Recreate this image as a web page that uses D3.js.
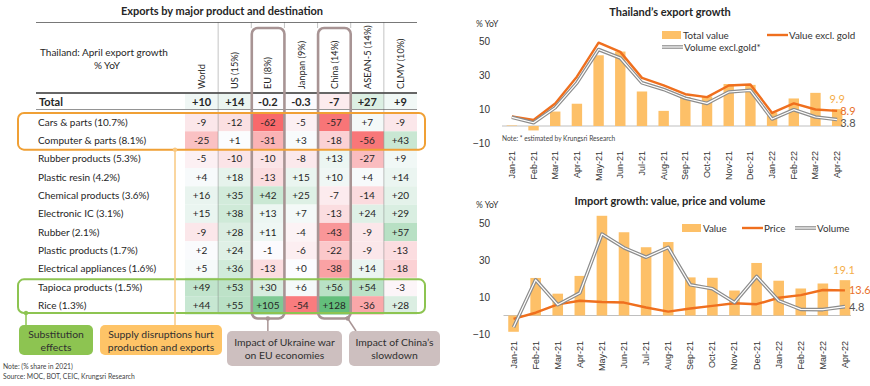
<!DOCTYPE html>
<html>
<head>
<meta charset="utf-8">
<script src="https://cdn.jsdelivr.net/npm/d3@7"></script>
<style>
  body { margin: 0; background: #fff; }
  svg { font-family: Lato, 'Open Sans', sans-serif; }
</style>
</head>
<body>
<div id="chart"></div>
<script>
// ---- table data ----
const products = [
  'Cars  & parts (10.7%)', 'Computer & parts (8.1%)', 'Rubber products (5.3%)',
  'Plastic resin (4.2%)', 'Chemical products (3.6%)', 'Electronic IC (3.1%)',
  'Rubber (2.1%)', 'Plastic products (1.7%)', 'Electrical appliances (1.6%)',
  'Tapioca products (1.5%)', 'Rice (1.3%)'
];
const destinations = ['World', 'US (15%)', 'EU (8%)', 'Janpan (9%)', 'China (14%)', 'ASEAN-5 (14%)', 'CLMV (10%)'];
const totalGrowth = [10, 14, -0.2, -0.3, -7, 27, 9];
const productGrowth = [
  [-9, -12, -62, -5, -57, 7, -9],
  [-25, 1, -31, 3, -18, -56, 43],
  [-5, -10, -10, -8, 13, -27, 9],
  [4, 18, -13, 15, 10, 4, 14],
  [16, 35, 42, 25, -7, -14, 20],
  [15, 38, 13, 7, -13, 24, 29],
  [-9, 28, 11, -4, -43, -9, 57],
  [2, 24, -1, -6, -22, -9, -13],
  [5, 36, -13, 0, -38, 14, -18],
  [49, 53, 30, 6, 56, 54, -3],
  [44, 55, 105, -54, 128, -36, 28]
];

// ---- chart data ----
const months = ['Jan-21', 'Feb-21', 'Mar-21', 'Apr-21', 'May-21', 'Jun-21', 'Jul-21', 'Aug-21',
  'Sep-21', 'Oct-21', 'Nov-21', 'Dec-21', 'Jan-22', 'Feb-22', 'Mar-22', 'Apr-22'];
const exportTotal = [0.3, -2.6, 8.5, 13.1, 41.6, 43.8, 20.3, 8.9, 17.1, 17.4, 24.7, 24.2, 8.0, 16.2, 19.5, 9.9];
const exportExGold = [5.6, 3.5, 13.2, 29, 49, 43.6, 28.3, 23.9, 18.7, 17, 23.8, 24.4, 7.7, 13.3, 9.7, 8.9];
const exportVolume = [5.1, 1.9, 10.8, 25.4, 45, 40, 25.4, 21.5, 16.3, 13.3, 20, 21, 4.1, 9.6, 5.3, 3.8];
const importValue = [-8.8, 20.3, 11.8, 21.4, 53.9, 45, 36.9, 39.7, 20.6, 20.4, 13.5, 28.4, 18.8, 14.6, 17.3, 19.1];
const importPrice = [-1.8, 1.5, 6, 8, 7.3, 7, 4.3, 2.1, 3.8, 5.2, 6.6, 6.1, 9.6, 11, 13.8, 13.6];
const importVolume = [-6.4, 19.3, 5.8, 12.2, 44, 36.6, 31.5, 36.8, 16.6, 14.5, 7, 21.1, 8, 3.3, 3.2, 4.8];

const W = 870, H = 386;
const svg = d3.select('#chart').append('svg').attr('width', W).attr('height', H);

const fmt = d => (d >= 0 ? '+' : '') + d;
const ink = '#262626';

// ================= TABLE =================
const tLeft = 36, tRight = 417;
const colX = d3.scaleBand().domain(destinations).range([185, tRight]);
const rowY = d3.scaleBand().domain(products).range([113, 314.5]);
const bw = colX.bandwidth(), rh = rowY.bandwidth();
const allVals = productGrowth.flat();
const heat = d3.scaleLinear()
  .domain([d3.min(allVals), 0, d3.max(allVals)])
  .range(['#F8696B', '#FCFCFF', '#63BE7B']);

svg.append('text')
  .attr('x', 222).attr('y', 15)
  .attr('text-anchor', 'middle')
  .attr('font-size', 11).attr('font-weight', 'bold').attr('fill', ink)
  .text('Exports by major product and destination');

const table = svg.append('g');

table.append('line')
  .attr('x1', tLeft).attr('x2', tRight).attr('y1', 22.5).attr('y2', 22.5)
  .attr('stroke', '#555').attr('stroke-width', 0.8);

table.append('text').attr('x', 40).attr('y', 56)
  .attr('font-size', 10).attr('fill', ink).text('Thailand: April export growth');
table.append('text').attr('x', 107).attr('y', 69).attr('text-anchor', 'middle')
  .attr('font-size', 10).attr('fill', ink).text('% YoY');

table.selectAll('.colhead')
  .data(destinations)
  .enter()
  .append('text')
  .attr('class', 'colhead')
  .attr('transform', d => `translate(${colX(d) + bw / 2 + 3.5}, 89) rotate(-90)`)
  .attr('font-size', 9.2).attr('fill', ink)
  .text(d => d);

// total row
table.selectAll('.totcell')
  .data(totalGrowth)
  .enter()
  .append('rect')
  .attr('x', (d, i) => colX(destinations[i]))
  .attr('y', 94)
  .attr('width', bw).attr('height', 15)
  .attr('fill', d => heat(d));

table.selectAll('.tottext')
  .data(totalGrowth)
  .enter()
  .append('text')
  .attr('x', (d, i) => colX(destinations[i]) + bw / 2)
  .attr('y', 105.5)
  .attr('text-anchor', 'middle')
  .attr('font-size', 11).attr('font-weight', 'bold').attr('fill', ink)
  .text(fmt);

table.append('text').attr('x', 39).attr('y', 105.5)
  .attr('font-size', 11).attr('font-weight', 'bold').attr('fill', ink).text('Total');

// product rows
const rows = table.selectAll('.row')
  .data(products)
  .enter()
  .append('g')
  .attr('transform', d => `translate(0, ${rowY(d)})`);

rows.append('text')
  .attr('x', 38).attr('y', rh / 2 + 3.6)
  .attr('font-size', 10).attr('fill', ink)
  .text(d => d);

rows.selectAll('rect')
  .data((d, i) => productGrowth[i])
  .enter()
  .append('rect')
  .attr('x', (d, j) => colX(destinations[j]))
  .attr('width', bw).attr('height', rh)
  .attr('fill', d => heat(d));

rows.selectAll('.val')
  .data((d, i) => productGrowth[i])
  .enter()
  .append('text')
  .attr('class', 'val')
  .attr('x', (d, j) => colX(destinations[j]) + bw / 2)
  .attr('y', rh / 2 + 3.6)
  .attr('text-anchor', 'middle')
  .attr('font-size', 10).attr('fill', ink)
  .text(fmt);

// rules
table.append('line')
  .attr('x1', tLeft).attr('x2', tRight).attr('y1', 93).attr('y2', 93)
  .attr('stroke', '#333').attr('stroke-width', 1.4);
table.append('line')
  .attr('x1', tLeft).attr('x2', tRight).attr('y1', 109.5).attr('y2', 109.5)
  .attr('stroke', '#666').attr('stroke-width', 0.7);

const tableBottom = rowY.range()[1];
[destinations[1], destinations[6]].forEach(d => {
  table.append('line')
    .attr('x1', colX(d)).attr('x2', colX(d)).attr('y1', 22.5).attr('y2', tableBottom)
    .attr('stroke', '#555').attr('stroke-width', 0.7).attr('stroke-dasharray', '1,1');
});
[destinations[2], destinations[4]].forEach(d => {
  [colX(d), colX(d) + bw].forEach(x => {
    table.append('line')
      .attr('x1', x).attr('x2', x).attr('y1', 22.5).attr('y2', 28)
      .attr('stroke', '#555').attr('stroke-width', 0.7).attr('stroke-dasharray', '1,1');
  });
});

// highlight boxes
const grey = '#A89494';
[destinations[2], destinations[4]].forEach(d => {
  table.append('rect')
    .attr('x', colX(d) + 0.5).attr('y', 28)
    .attr('width', bw - 0.5).attr('height', tableBottom + 4 - 28)
    .attr('rx', 6)
    .attr('fill', 'none').attr('stroke', grey).attr('stroke-width', 2.6);
});

const orange = '#F0A035', green = '#8DC451';
table.append('rect')
  .attr('x', 18).attr('y', rowY(products[0]))
  .attr('width', 407).attr('height', rh * 2)
  .attr('rx', 6)
  .attr('fill', 'none').attr('stroke', orange).attr('stroke-width', 2);
table.append('rect')
  .attr('x', 18).attr('y', rowY(products[9]) + 1.5)
  .attr('width', 407).attr('height', rh * 2 - 3)
  .attr('rx', 6)
  .attr('fill', 'none').attr('stroke', green).attr('stroke-width', 2);

// connectors
const orangeBottom = rowY(products[1]) + rh;
const greenBottom = rowY(products[10]) + rh - 1.5;
const connectors = [
  { x1: 175, y1: orangeBottom, x2: 175, y2: 325, c: '#F9C880' },
  { x1: 26, y1: greenBottom, x2: 26, y2: 325, c: green },
  { x1: colX(destinations[2]) + bw / 2, y1: tableBottom + 4, x2: colX(destinations[2]) + bw / 2, y2: 331, c: grey },
  { x1: colX(destinations[4]) + bw - 3, y1: tableBottom + 4, x2: 356, y2: 331, c: grey }
];
connectors.forEach(c => {
  table.append('line').attr('x1', c.x1).attr('y1', c.y1).attr('x2', c.x2).attr('y2', c.y2)
    .attr('stroke', c.c).attr('stroke-width', 1.5);
  table.append('circle').attr('cx', c.x1).attr('cy', c.y1).attr('r', 2.2).attr('fill', c.c);
});

// annotation boxes
const notes = [
  { x: 19, y: 325, w: 74, h: 30, fill: '#8DC451', lines: ['Substitution', 'effects'] },
  { x: 100, y: 325, w: 122, h: 30, fill: '#FEC467', lines: ['Supply disruptions hurt', 'production and exports'] },
  { x: 227, y: 331, w: 115, h: 35, fill: '#CDBFBF', lines: ['Impact of Ukraine war', 'on EU economies'] },
  { x: 349, y: 331, w: 91, h: 35, fill: '#CDBFBF', lines: ['Impact of China\u2019s', 'slowdown'] }
];
notes.forEach(n => {
  const g = table.append('g');
  g.append('rect').attr('x', n.x).attr('y', n.y).attr('width', n.w).attr('height', n.h)
    .attr('rx', 5).attr('fill', n.fill);
  n.lines.forEach((t, i) => {
    g.append('text')
      .attr('x', n.x + n.w / 2)
      .attr('y', n.y + n.h / 2 - 2.5 + i * 13)
      .attr('text-anchor', 'middle')
      .attr('font-size', 10.4).attr('fill', '#303030')
      .text(t);
  });
});

svg.append('text').attr('x', 3).attr('y', 369).attr('font-size', 6.8).attr('fill', '#444')
  .text('Note: (% share in 2021)');
svg.append('text').attr('x', 3).attr('y', 379).attr('font-size', 6.8).attr('fill', '#444')
  .text('Source: MOC, BOT, CEIC, Krungsri Research');

// ================= CHARTS =================
const barColor = '#FDC068', lineOrange = '#EF6F1E';

function drawChart(cfg) {
  const g = svg.append('g');
  const x = d3.scaleBand().domain(months).range(cfg.xRange);
  const y = d3.scaleLinear().domain([-10, 50]).range(cfg.yRange);
  const step = x.bandwidth();
  const cx = m => x(m) + step / 2;

  g.append('text')
    .attr('x', 670).attr('y', cfg.titleY)
    .attr('text-anchor', 'middle')
    .attr('font-size', 11).attr('font-weight', 'bold').attr('fill', ink)
    .text(cfg.title);
  g.append('text').attr('x', 476).attr('y', cfg.unitY)
    .attr('font-size', 8.5).attr('fill', '#333').text('% YoY');

  const yAxis = g.append('g')
    .attr('transform', 'translate(493, 0)')
    .call(d3.axisLeft(y).tickValues([-10, 10, 30, 50]).tickSize(0).tickPadding(3));
  yAxis.select('.domain').remove();
  yAxis.selectAll('text').attr('font-size', 10).attr('fill', '#333').attr('font-family', null);

  const xAxis = g.append('g')
    .attr('transform', `translate(0, ${cfg.xLabelY})`)
    .call(d3.axisBottom(x).tickSize(0));
  xAxis.select('.domain').remove();
  xAxis.selectAll('text')
    .attr('transform', 'rotate(-90)')
    .attr('text-anchor', 'end')
    .attr('x', 0).attr('y', 0).attr('dy', '0.33em')
    .attr('font-size', 9).attr('fill', '#333').attr('font-family', null);

  g.append('line')
    .attr('x1', cfg.xRange[0] + 1).attr('x2', cfg.zeroEnd)
    .attr('y1', y(0)).attr('y2', y(0))
    .attr('stroke', '#BFBFBF').attr('stroke-width', 1);

  g.selectAll('.bar')
    .data(cfg.bars)
    .enter()
    .append('rect')
    .attr('x', (d, i) => x(months[i]) + step * 0.26)
    .attr('width', step * 0.48)
    .attr('y', d => Math.min(y(d), y(0)))
    .attr('height', d => Math.abs(y(d) - y(0)))
    .attr('fill', barColor);

  const line = d3.line().x((d, i) => cx(months[i])).y(d => y(d));

  g.append('path').datum(cfg.orange).attr('d', line)
    .attr('fill', 'none').attr('stroke', lineOrange).attr('stroke-width', 2.4)
    .attr('stroke-linejoin', 'round');
  g.append('path').datum(cfg.grey).attr('d', line)
    .attr('fill', 'none').attr('stroke', '#8C8C8C').attr('stroke-width', 3.6)
    .attr('stroke-linejoin', 'round');
  g.append('path').datum(cfg.grey).attr('d', line)
    .attr('fill', 'none').attr('stroke', '#fff').attr('stroke-width', 1.2)
    .attr('stroke-linejoin', 'round');

  // end labels
  const last = months.length - 1, lx = cx(months[last]);
  const lb = cfg.bars[last], lo = cfg.orange[last], lg = cfg.grey[last];
  g.append('text').attr('x', lx + cfg.barLabelDx).attr('y', y(lb) - 6)
    .attr('text-anchor', 'middle').attr('font-size', 11).attr('fill', '#F4AE48').text(lb);
  g.append('text').attr('x', lx + cfg.lineLabelDx).attr('y', y(lo) + 4)
    .attr('font-size', 11).attr('fill', '#E8702A').text(lo);
  g.append('text').attr('x', lx + cfg.lineLabelDx).attr('y', y(lg) + cfg.greyDy)
    .attr('font-size', 11).attr('fill', '#555').text(lg);

  // legend
  const L = cfg.legend;
  g.append('rect').attr('x', L.bar[0]).attr('y', L.bar[1] - 4).attr('width', 19).attr('height', 8)
    .attr('fill', barColor);
  g.append('text').attr('x', L.bar[0] + 21).attr('y', L.bar[1] + 3.5)
    .attr('font-size', 9.8).attr('fill', '#333').text(L.names[0]);
  g.append('line').attr('x1', L.orange[0]).attr('x2', L.orange[0] + 21)
    .attr('y1', L.orange[1]).attr('y2', L.orange[1])
    .attr('stroke', lineOrange).attr('stroke-width', 2.4);
  g.append('text').attr('x', L.orange[0] + 22).attr('y', L.orange[1] + 3.5)
    .attr('font-size', 9.8).attr('fill', '#333').text(L.names[1]);
  g.append('line').attr('x1', L.grey[0]).attr('x2', L.grey[0] + 21)
    .attr('y1', L.grey[1]).attr('y2', L.grey[1])
    .attr('stroke', '#8C8C8C').attr('stroke-width', 3.6);
  g.append('line').attr('x1', L.grey[0]).attr('x2', L.grey[0] + 21)
    .attr('y1', L.grey[1]).attr('y2', L.grey[1])
    .attr('stroke', '#fff').attr('stroke-width', 1.2);
  g.append('text').attr('x', L.grey[0] + 22).attr('y', L.grey[1] + 3.5)
    .attr('font-size', 9.8).attr('fill', '#333').text(L.names[2]);

  return g;
}

const exportChart = drawChart({
  title: 'Thailand\u2019s export growth', titleY: 16, unitY: 27,
  xRange: [501, 848], yRange: [143, 41], xLabelY: 151, zeroEnd: 843,
  bars: exportTotal, orange: exportExGold, grey: exportVolume,
  barLabelDx: 0, lineLabelDx: 3, greyDy: 7,
  legend: { bar: [662, 35], orange: [767, 35], grey: [662, 47],
    names: ['Total value', 'Value excl. gold', 'Volume excl.gold*'] }
});
exportChart.append('text').attr('x', 502).attr('y', 141)
  .attr('font-size', 6.6).attr('fill', '#444').text('Note: * estimated by Krungsri Research');

drawChart({
  title: 'Import growth: value, price and volume', titleY: 205, unitY: 208,
  xRange: [502.5, 856], yRange: [334, 223], xLabelY: 341, zeroEnd: 851,
  bars: importValue, orange: importPrice, grey: importVolume,
  barLabelDx: -1, lineLabelDx: 4, greyDy: 4,
  legend: { bar: [682, 228], orange: [742, 228], grey: [795, 228],
    names: ['Value', 'Price', 'Volume'] }
});
</script>
</body>
</html>
